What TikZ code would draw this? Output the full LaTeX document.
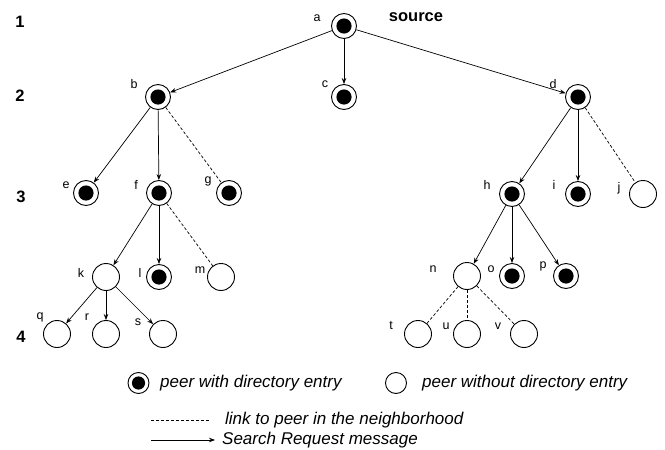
\documentclass[tikz,border=0pt]{standalone}
\usepackage{fontspec}
\setmainfont{Liberation Sans}
\usetikzlibrary{arrows.meta}
\tikzset{
  dnode/.style={circle, draw, line width=0.9pt, minimum size=25pt, inner sep=0pt,
    path picture={\fill[black] (path picture bounding box.center) circle (7.6pt);}},
  enode/.style={circle, draw, line width=0.9pt, minimum size=27pt, inner sep=0pt},
  lbl/.style={inner sep=0pt, font=\fontsize{12.5}{14}\selectfont},
  lvl/.style={inner sep=0pt, font=\fontsize{16.5}{18}\selectfont\bfseries},
  leg/.style={inner sep=0pt, anchor=west, font=\fontsize{17}{19}\selectfont\itshape},
  arr/.style={line width=0.7pt, -{Stealth[length=6pt,width=4.5pt]}},
  nbr/.style={line width=0.7pt, dash pattern=on 3pt off 2pt},
}
\begin{document}
\begin{tikzpicture}[x=1pt,y=-1pt]
\useasboundingbox (0,0) rectangle (665,450);
% level numbers
\node[lvl] (L1) at (20,22) {1};
\node[lvl] (L2) at (20,96) {2};
\node[lvl] (L3) at (21,197) {3};
\node[lvl] (L4) at (21,337) {4};
\node[lvl] (src) at (416,17) {source};
% nodes
\node[dnode] (a) at (344,26) {};
\node[dnode] (b) at (158,97) {};
\node[dnode] (c) at (344,97) {};
\node[dnode] (d) at (578,97) {};
\node[dnode] (e) at (86,193) {};
\node[dnode] (f) at (159,193) {};
\node[dnode] (g) at (229,193) {};
\node[dnode] (h) at (512,194) {};
\node[dnode] (i) at (578,194) {};
\node[enode] (j) at (643,194) {};
\node[enode] (k) at (106,277) {};
\node[dnode] (l) at (159,277) {};
\node[enode] (m) at (221,277) {};
\node[enode] (n) at (467,276) {};
\node[dnode] (o) at (512,276) {};
\node[dnode] (p) at (566,276) {};
\node[enode] (q) at (57,334) {};
\node[enode] (r) at (106,334) {};
\node[enode] (s) at (163,334) {};
\node[enode] (t) at (418,334) {};
\node[enode] (u) at (467,334) {};
\node[enode] (v) at (524,334) {};
% labels
\node[lbl] (la) at (317,18) {a};
\node[lbl] (lb) at (134,84) {b};
\node[lbl] (lc) at (325,84) {c};
\node[lbl] (ld) at (553,84) {d};
\node[lbl] (le) at (66,185) {e};
\node[lbl] (lf) at (136,185) {f};
\node[lbl] (lg) at (208,181) {g};
\node[lbl] (lh) at (487,185) {h};
\node[lbl] (li) at (554,185) {i};
\node[lbl] (lj) at (619,188) {j};
\node[lbl] (lk) at (81,273) {k};
\node[lbl] (ll) at (140,273) {l};
\node[lbl] (lm) at (200,270) {m};
\node[lbl] (ln) at (433,269) {n};
\node[lbl] (lo) at (491,269) {o};
\node[lbl] (lp) at (543,266) {p};
\node[lbl] (lq) at (40,317) {q};
\node[lbl] (lr) at (87,317) {r};
\node[lbl] (ls) at (138,322) {s};
\node[lbl] (lt) at (391,326) {t};
\node[lbl] (lu) at (446,326) {u};
\node[lbl] (lv) at (498,326) {v};
% search request edges
\draw[arr] (a) -- (b);
\draw[arr] (a) -- (c);
\draw[arr] (a) -- (d);
\draw[arr] (b) -- (e);
\draw[arr] (b) -- (f);
\draw[arr] (d) -- (h);
\draw[arr] (d) -- (i);
\draw[arr] (f) -- (k);
\draw[arr] (f) -- (l);
\draw[arr] (h) -- (n);
\draw[arr] (h) -- (o);
\draw[arr] (h) -- (p);
\draw[arr] (k) -- (q);
\draw[arr] (k) -- (r);
\draw[arr] (k) -- (s);
% neighbourhood links
\draw[nbr] (b) -- (g);
\draw[nbr] (d) -- (j);
\draw[nbr] (f) -- (m);
\draw[nbr] (n) -- (t);
\draw[nbr] (n) -- (u);
\draw[nbr] (n) -- (v);
% legend
\node[dnode, minimum size=21pt, path picture={\fill[black] (path picture bounding box.center) circle (6.6pt);}] (legd) at (138.5,383) {};
\node[leg] (legdt) at (160,383) {peer with directory entry};
\node[enode, minimum size=21pt] (lege) at (396,383) {};
\node[leg] (leget) at (422,383) {peer without directory entry};
\coordinate (ln1) at (151,420);
\coordinate (ln2) at (210,420);
\draw[nbr, line width=0.6pt] (ln1) -- (ln2);
\node[leg] (lnt) at (225,420) {link to peer in the neighborhood};
\coordinate (la1) at (151,440);
\coordinate (la2) at (215,440);
\draw[arr] (la1) -- (la2);
\node[leg] (lat) at (222,440) {Search Request message};
\end{tikzpicture}
\end{document}
